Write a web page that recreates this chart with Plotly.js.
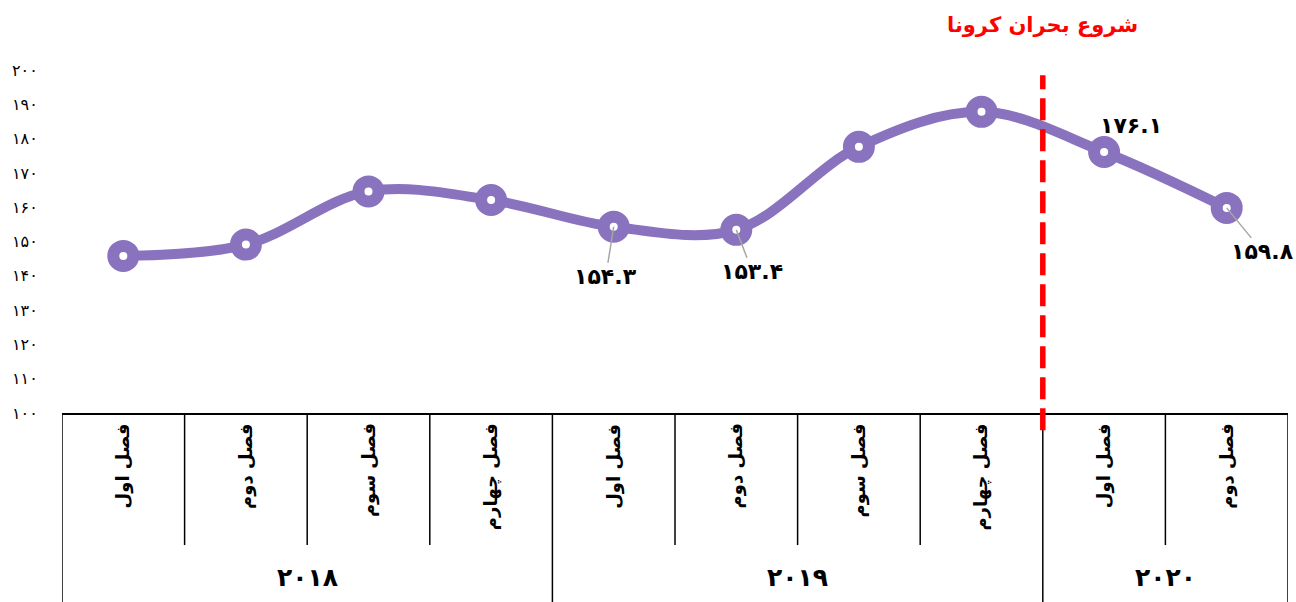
<!DOCTYPE html>
<html>
<head>
<meta charset="utf-8">
<script src="https://cdn.plot.ly/plotly-3.0.1.min.js"></script>
<style>html,body{margin:0;padding:0;background:#fff;}#chart{width:1296px;height:602px;}</style>
</head>
<body>
<div id="chart"></div>
<script>
// ---- data ----
const quarters = ['فصل اول','فصل دوم','فصل سوم','فصل چهارم','فصل اول','فصل دوم','فصل سوم','فصل چهارم','فصل اول','فصل دوم'];
const values = [145.8, 149.1, 164.6, 162.1, 154.3, 153.4, 177.6, 187.8, 176.1, 159.8];
const years = ['۲۰۱۸','۲۰۱۹','۲۰۲۰'];
const yearCounts = [4, 4, 2];
const labelledIdx = [4, 5, 8, 9];
const yTickVals = [100,110,120,130,140,150,160,170,180,190,200];
const yTickText = ['۱۰۰','۱۱۰','۱۲۰','۱۳۰','۱۴۰','۱۵۰','۱۶۰','۱۷۰','۱۸۰','۱۹۰','۲۰۰'];
const eventTitle = 'شروع بحران کرونا';
const eventAfterIdx = 7; // line drawn between index 7 and 8

// ---- helpers ----
const fa = s => String(s).replace(/\d/g, d => '۰۱۲۳۴۵۶۷۸۹'[+d]);
const xs = values.map((v, i) => i);
const purple = '#8A73BE';
const faFont = 'DejaVu Sans, sans-serif';

const trace = {
  x: xs, y: values, type: 'scatter', mode: 'lines+markers',
  line: {color: purple, width: 10, shape: 'spline', smoothing: 1},
  marker: {size: 20, color: '#ffffff', line: {color: purple, width: 12}},
  hoverinfo: 'skip', cliponaxis: false
};

// label offsets (pixels) for the labelled points
const labelOffsets = {4: [-8, 50, true], 5: [16, 42, true], 8: [27, -26, false], 9: [36, 44, true]};

const annotations = [];
labelledIdx.forEach(i => {
  const [ax, ay, arrow] = labelOffsets[i];
  const a = {
    x: i, y: values[i], xref: 'x', yref: 'y',
    text: fa(values[i].toFixed(1)),
    font: {family: faFont, size: 22, color: '#000', weight: 'bold'},
    xanchor: 'center', yanchor: 'middle'
  };
  if (arrow) {
    Object.assign(a, {showarrow: true, ax: ax, ay: ay, arrowhead: 0, arrowwidth: 1.5, arrowcolor: '#A6A6A6', standoff: 0});
  } else {
    Object.assign(a, {showarrow: false, xshift: ax, yshift: -ay});
  }
  annotations.push(a);
});

// quarter labels (rotated)
quarters.forEach((q, i) => {
  annotations.push({
    x: i, xref: 'x', y: -0.025, yref: 'paper', text: q, textangle: -90,
    showarrow: false, xanchor: 'center', yanchor: 'top',
    font: {family: faFont, size: 18, color: '#000', weight: 'bold'}
  });
});

// year labels
let start = 0;
const shapes = [];
const lineStyle = {color: '#000', width: 1.5};
// left border
shapes.push({type: 'line', xref: 'x', yref: 'paper', x0: -0.5, x1: -0.5, y0: 0, y1: -0.6, line: lineStyle});
years.forEach((yr, g) => {
  const n = yearCounts[g];
  const center = start + (n - 1) / 2;
  annotations.push({
    x: center, xref: 'x', y: -0.481, yref: 'paper', text: yr, showarrow: false,
    xanchor: 'center', yanchor: 'middle',
    font: {family: faFont, size: 25, color: '#000', weight: 'bold'}
  });
  // inner separators
  for (let k = 1; k < n; k++) {
    const xb = start + k - 0.5;
    shapes.push({type: 'line', xref: 'x', yref: 'paper', x0: xb, x1: xb, y0: 0, y1: -0.385, line: lineStyle});
  }
  start += n;
  const xe = start - 0.5;
  shapes.push({type: 'line', xref: 'x', yref: 'paper', x0: xe, x1: xe, y0: 0, y1: -0.6, line: lineStyle});
});

// event line
shapes.push({type: 'line', xref: 'x', yref: 'paper', x0: eventAfterIdx + 0.5, x1: eventAfterIdx + 0.5,
  y0: -0.05, y1: 0.985, line: {color: '#FF0000', width: 5.5, dash: '22px,9px'}});
annotations.push({
  x: eventAfterIdx + 0.5, xref: 'x', y: 1.13, yref: 'paper', text: eventTitle, showarrow: false,
  xanchor: 'center', yanchor: 'middle',
  font: {family: faFont, size: 21, color: '#FF0000', weight: 'bold'}
});

const layout = {
  width: 1296, height: 602,
  margin: {l: 62, r: 8, t: 70, b: 189, pad: 0},
  paper_bgcolor: '#fff', plot_bgcolor: '#fff',
  showlegend: false,
  xaxis: {range: [-0.5, 9.5], showticklabels: false, showgrid: false, zeroline: false,
    showline: true, linecolor: '#000', linewidth: 2, ticks: '', fixedrange: true},
  yaxis: {range: [100, 200], tickvals: yTickVals, ticktext: yTickText, showgrid: false,
    zeroline: false, showline: false, ticks: 'outside', ticklen: 20, tickcolor: 'rgba(0,0,0,0)',
    tickfont: {family: faFont, size: 16, color: '#000'}, fixedrange: true},
  shapes: shapes,
  annotations: annotations
};

Plotly.newPlot('chart', [trace], layout, {displayModeBar: false, staticPlot: true});
</script>
</body>
</html>
